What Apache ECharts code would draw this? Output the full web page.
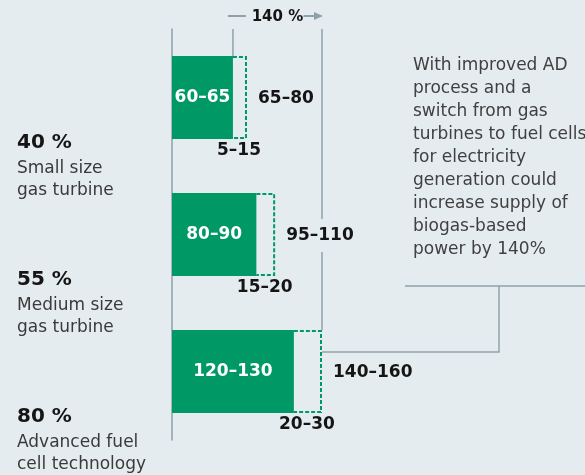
<!DOCTYPE html>
<html>
<head>
<meta charset="utf-8">
<script src="https://cdn.jsdelivr.net/npm/echarts@6/dist/echarts.min.js"></script>
<style>
  html, body { margin: 0; padding: 0; background: #e5ecef; }
  #main { width: 585px; height: 475px; }
</style>
</head>
<body>
<div id="main"></div>
<script>
  // 数据
  var efficiency = ["40 %", "55 %", "80 %"];
  var techLine1 = ["Small size", "Medium size", "Advanced fuel"];
  var techLine2 = ["gas turbine", "gas turbine", "cell technology"];
  var currentValue = [65, 90, 130];
  var currentLabel = ["60–65", "80–90", "120–130"];
  var extraValue = [15, 20, 30];
  var extraLabel = ["5–15", "15–20", "20–30"];
  var totalLabel = ["65–80", "95–110", "140–160"];
  var gainLabel = "140 %";
  var note =
    "With improved AD\nprocess and a\nswitch from gas\nturbines to fuel cells\nfor electricity\ngeneration could\nincrease supply of\nbiogas-based\npower by 140%";

  var bg = "#e5ecef";
  var green = "#009966";
  var lineColor = "#8ea2ac";
  var font = "DejaVu Sans";
  var gridTop = 29;
  var barH = 83;

  var chartDom = document.getElementById("main");
  var myChart = echarts.init(chartDom);

  var outlineData = currentValue.map(function (v, i) {
    return [i, v, v + extraValue[i]];
  });

  var option = {
    backgroundColor: bg,
    animation: false,
    textStyle: { fontFamily: font },
    title: {
      text: note,
      left: 413,
      top: 54,
      padding: 0,
      textStyle: {
        fontFamily: font,
        fontSize: 17,
        fontWeight: "normal",
        color: "#404040",
        lineHeight: 23,
      },
    },
    grid: { left: 172, top: gridTop, width: 150, height: 411 },
    xAxis: { type: "value", min: 0, max: 160, show: false },
    yAxis: {
      type: "category",
      inverse: true,
      data: efficiency,
      axisLine: { show: true, lineStyle: { color: lineColor, width: 1.5 } },
      axisTick: { show: false },
      splitLine: { show: false },
      axisLabel: {
        align: "left",
        margin: 155,
        verticalAlign: "top",
        padding: [30, 0, 0, 0],
        formatter: function (value, index) {
          return (
            "{b|" + value + "}\n{n|" + techLine1[index] + "}\n{n|" + techLine2[index] + "}"
          );
        },
        rich: {
          b: { fontFamily: font, fontSize: 20, fontWeight: "bold", color: "#151515", lineHeight: 30 },
          n: { fontFamily: font, fontSize: 17, color: "#3a3a3a", lineHeight: 22 },
        },
      },
    },
    series: [
      {
        type: "bar",
        data: currentValue,
        barWidth: barH,
        itemStyle: { color: green },
        z: 3,
        label: {
          show: true,
          position: "inside",
          color: "#fff",
          fontFamily: font,
          fontSize: 17,
          fontWeight: "bold",
          formatter: function (p) {
            return currentLabel[p.dataIndex];
          },
        },
      },
      {
        // 虚线框 + 标签
        type: "custom",
        z: 4,
        data: outlineData,
        encode: { x: [1, 2], y: 0 },
        renderItem: function (params, api) {
          var i = api.value(0);
          var p0 = api.coord([api.value(1), i]);
          var p1 = api.coord([api.value(2), i]);
          var top = p0[1] - barH / 2;
          var bottom = p0[1] + barH / 2;
          return {
            type: "group",
            children: [
              {
                type: "polyline",
                shape: { points: [[p0[0], top + 1], [p1[0] - 1, top + 1], [p1[0] - 1, bottom - 1], [p0[0], bottom - 1]] },
                style: { stroke: green, fill: null, lineWidth: 2, lineDash: [4, 2] },
              },
              {
                type: "text",
                style: {
                  text: totalLabel[i],
                  x: p1[0] + 9,
                  y: p0[1] + 1,
                  fill: "#151515",
                  font: "bold 17px '" + font + "'",
                  align: "left",
                  verticalAlign: "middle",
                  backgroundColor: bg,
                  padding: [8, 2],
                },
              },
              {
                type: "text",
                style: {
                  text: extraLabel[i],
                  x: (p0[0] + p1[0]) / 2 - 1,
                  y: bottom + 12,
                  fill: "#151515",
                  font: "bold 17px '" + font + "'",
                  align: "center",
                  verticalAlign: "middle",
                },
              },
            ],
          };
        },
      },
    ],
  };

  myChart.setOption(option);

  // 参考线、箭头与连接线
  var total = currentValue[2] + extraValue[2];
  var a = myChart.convertToPixel({ gridIndex: 0 }, [currentValue[0], 0]);
  var b = myChart.convertToPixel({ gridIndex: 0 }, [total, 2]);
  var mid = (a[0] + b[0]) / 2;
  var joinY = b[1] - barH / 2 + 22;
  var lineStyle = { stroke: lineColor, lineWidth: 1.5 };

  myChart.setOption({
    graphic: [
      { type: "line", z: 1, shape: { x1: a[0], y1: gridTop, x2: a[0], y2: a[1] - barH / 2 }, style: lineStyle },
      { type: "line", z: 1, shape: { x1: b[0], y1: gridTop, x2: b[0], y2: b[1] - barH / 2 }, style: lineStyle },
      { type: "line", z: 1, shape: { x1: a[0] - 5, y1: 16, x2: a[0] + 13, y2: 16 }, style: { stroke: lineColor, lineWidth: 2 } },
      { type: "line", z: 1, shape: { x1: mid + 26, y1: 16, x2: b[0] - 6, y2: 16 }, style: { stroke: lineColor, lineWidth: 2 } },
      { type: "polygon", z: 1, shape: { points: [[b[0] - 8, 12], [b[0] + 1, 16], [b[0] - 8, 20]] }, style: { fill: lineColor } },
      {
        type: "text",
        z: 2,
        style: {
          text: gainLabel,
          x: mid,
          y: 17,
          fill: "#151515",
          font: "bold 15px '" + font + "'",
          align: "center",
          verticalAlign: "middle",
        },
      },
      { type: "polyline", z: 1, shape: { points: [[b[0], joinY], [499, joinY], [499, 286]] }, style: { stroke: lineColor, lineWidth: 1.5, fill: null } },
      { type: "line", z: 1, shape: { x1: 405, y1: 286, x2: 585, y2: 286 }, style: lineStyle },
    ],
  });
</script>
</body>
</html>
